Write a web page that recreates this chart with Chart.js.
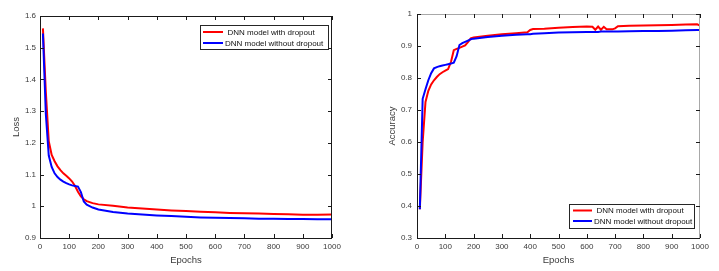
<!DOCTYPE html>
<html>
<head>
<meta charset="utf-8">
<script src="https://cdn.jsdelivr.net/npm/chart.js@4/dist/chart.umd.min.js"></script>
<style>
  html, body { margin: 0; padding: 0; background: #fff; }
  #wrap { position: relative; width: 719px; height: 271px; overflow: hidden; }
  .box { position: absolute; top: 0; height: 271px; }
</style>
</head>
<body>
<div id="wrap">
  <div class="box" style="left:0;width:360px"><canvas id="loss"></canvas></div>
  <div class="box" style="left:360px;width:359px"><canvas id="acc"></canvas></div>
</div>
<script>
// ---------- DATA ----------
const seriesLabels = ['DNN model with dropout', 'DNN model without dropout'];

const lossEpochs = [10, 20, 30, 40, 50, 60, 70, 80, 90, 100, 110, 120, 130, 140, 150, 160, 180, 200, 250, 300, 350, 400, 450, 500, 550, 600, 650, 700, 750, 800, 850, 900, 950, 1000];
const lossWithDropout = [1.561, 1.36, 1.205, 1.162, 1.142, 1.126, 1.114, 1.104, 1.096, 1.088, 1.078, 1.064, 1.046, 1.031, 1.022, 1.016, 1.010, 1.006, 1.002, 0.996, 0.993, 0.990, 0.987, 0.985, 0.983, 0.981, 0.979, 0.978, 0.977, 0.976, 0.975, 0.973, 0.973, 0.974];
const lossWithoutDropout = [1.545, 1.29, 1.160, 1.124, 1.104, 1.092, 1.084, 1.078, 1.073, 1.069, 1.066, 1.064, 1.062, 1.045, 1.015, 1.005, 0.996, 0.990, 0.982, 0.977, 0.974, 0.971, 0.969, 0.967, 0.965, 0.964, 0.963, 0.962, 0.961, 0.961, 0.960, 0.960, 0.959, 0.959];

const accEpochs = [10, 20, 30, 40, 50, 60, 70, 80, 90, 100, 110, 120, 130, 140, 150, 160, 170, 180, 190, 200, 250, 300, 350, 390, 400, 410, 450, 500, 550, 600, 620, 630, 640, 650, 660, 670, 680, 690, 700, 710, 750, 800, 850, 900, 950, 990, 1000];
const accWithDropout = [0.39, 0.60, 0.725, 0.76, 0.78, 0.793, 0.803, 0.812, 0.818, 0.823, 0.828, 0.85, 0.887, 0.891, 0.894, 0.898, 0.902, 0.912, 0.924, 0.927, 0.932, 0.937, 0.940, 0.943, 0.950, 0.953, 0.954, 0.957, 0.959, 0.961, 0.960, 0.951, 0.961, 0.951, 0.960, 0.952, 0.952, 0.952, 0.955, 0.962, 0.963, 0.964, 0.965, 0.966, 0.967, 0.968, 0.964];
const accWithoutDropout = [0.39, 0.735, 0.765, 0.793, 0.815, 0.830, 0.834, 0.837, 0.839, 0.841, 0.843, 0.845, 0.848, 0.868, 0.903, 0.909, 0.913, 0.917, 0.921, 0.923, 0.928, 0.932, 0.935, 0.937, 0.937, 0.938, 0.940, 0.942, 0.943, 0.944, 0.944, 0.944, 0.944, 0.945, 0.945, 0.945, 0.945, 0.945, 0.945, 0.945, 0.946, 0.947, 0.947, 0.948, 0.949, 0.950, 0.950];

const epochTicks = [0, 100, 200, 300, 400, 500, 600, 700, 800, 900, 1000];
const lossTicks = [0.9, 1, 1.1, 1.2, 1.3, 1.4, 1.5, 1.6];
const accTicks = [0.3, 0.4, 0.5, 0.6, 0.7, 0.8, 0.9, 1];

// ---------- HELPERS ----------
const FONT = "'Liberation Sans', Arial, Helvetica, sans-serif";
const TEXT = '#3a3a3a';

function pts(xs, ys) { return xs.map((x, i) => ({ x: x, y: ys[i] })); }

const matlabAxes = {
  id: 'matlabAxes',
  afterDatasetsDraw(chart, args, opts) {
    const { ctx, chartArea: a } = chart;
    const xs = chart.scales.x, ys = chart.scales.y;
    const tl = 4;
    ctx.save();
    ctx.lineWidth = 1;
    // box
    ctx.strokeStyle = '#1a1a1a';
    ctx.beginPath();
    ctx.moveTo(a.left + 0.5, a.top);
    ctx.lineTo(a.left + 0.5, a.bottom + 0.5);
    ctx.lineTo(a.right, a.bottom + 0.5);
    ctx.stroke();
    ctx.strokeStyle = opts.farColor || '#1a1a1a';
    ctx.beginPath();
    ctx.moveTo(a.left, a.top + 0.5);
    ctx.lineTo(a.right - 0.5, a.top + 0.5);
    ctx.lineTo(a.right - 0.5, a.bottom + 0.5);
    ctx.stroke();
    // inner ticks
    ctx.strokeStyle = '#1a1a1a';
    ctx.beginPath();
    xs.ticks.forEach(t => {
      const px = Math.round(xs.getPixelForValue(t.value)) + 0.5;
      ctx.moveTo(px, a.bottom); ctx.lineTo(px, a.bottom - tl);
      ctx.moveTo(px, a.top); ctx.lineTo(px, a.top + tl);
    });
    ys.ticks.forEach(t => {
      const py = Math.round(ys.getPixelForValue(t.value)) + 0.5;
      ctx.moveTo(a.left, py); ctx.lineTo(a.left + tl, py);
      ctx.moveTo(a.right, py); ctx.lineTo(a.right - tl, py);
    });
    ctx.stroke();
    // legend
    const L = opts.legend;
    const bx = a.right - L.dx - L.w;
    const by = L.anchor === 'ne' ? a.top + L.dy : a.bottom - L.dy - L.h;
    ctx.fillStyle = '#fff';
    ctx.fillRect(bx, by, L.w, L.h);
    ctx.strokeStyle = '#262626';
    ctx.strokeRect(Math.round(bx) + 0.5, Math.round(by) + 0.5, L.w, L.h);
    ctx.font = '8px ' + FONT;
    ctx.textBaseline = 'middle';
    ctx.textAlign = 'left';
    chart.data.datasets.forEach((ds, i) => {
      const ry = by + L.rowY[i];
      ctx.strokeStyle = ds.borderColor;
      ctx.lineWidth = 2;
      ctx.beginPath();
      ctx.moveTo(bx + L.lx0, ry); ctx.lineTo(bx + L.lx1, ry);
      ctx.stroke();
      ctx.fillStyle = '#111';
      ctx.fillText(ds.label, bx + L.tx[i], ry + 0.5);
    });
    ctx.restore();
  }
};

function makeChart(id, xs, y1, y2, yMin, yMax, yTicks, yTitle, layout, legend, farColor) {
  return new Chart(document.getElementById(id), {
    type: 'line',
    data: {
      datasets: [
        { label: seriesLabels[0], data: pts(xs, y1), borderColor: '#ff0000', borderWidth: 2, pointRadius: 0, tension: 0, order: 1 },
        { label: seriesLabels[1], data: pts(xs, y2), borderColor: '#0000ff', borderWidth: 2, pointRadius: 0, tension: 0, order: 0 }
      ]
    },
    options: {
      responsive: false,
      animation: false,
      events: [],
      layout: { padding: { top: layout.top, right: layout.right, left: 0, bottom: 0 } },
      plugins: {
        legend: { display: false },
        tooltip: { enabled: false },
        matlabAxes: { legend: legend, farColor: farColor }
      },
      scales: {
        x: {
          type: 'linear', min: 0, max: 1000,
          afterBuildTicks: s => { s.ticks = epochTicks.map(v => ({ value: v })); },
          afterFit: s => { s.height = layout.xh; },
          grid: { display: false, drawTicks: false },
          border: { display: false },
          ticks: { padding: 4, maxRotation: 0, autoSkip: false, color: TEXT, font: { family: FONT, size: 8 }, callback: v => String(v) },
          title: { display: true, text: 'Epochs', color: TEXT, font: { family: FONT, size: 9.5 }, padding: { top: 0, bottom: layout.xtp } }
        },
        y: {
          type: 'linear', min: yMin, max: yMax,
          afterBuildTicks: s => { s.ticks = yTicks.map(v => ({ value: v })); },
          afterFit: s => { s.width = layout.yw; },
          grid: { display: false, drawTicks: false },
          border: { display: false },
          ticks: { padding: layout.ytp, autoSkip: false, color: TEXT, font: { family: FONT, size: 8 }, callback: v => String(Number(v.toFixed(2))) },
          title: { display: true, text: yTitle, color: TEXT, font: { family: FONT, size: 9.5 }, padding: { top: layout.ytitle, bottom: 0 } }
        }
      }
    },
    plugins: [matlabAxes]
  });
}

function sizeCanvas(id, w, h) { const c = document.getElementById(id); c.width = w; c.height = h; c.style.width = w + 'px'; c.style.height = h + 'px'; }
sizeCanvas('loss', 360, 271);
sizeCanvas('acc', 359, 271);

makeChart('loss', lossEpochs, lossWithDropout, lossWithoutDropout, 0.9, 1.6, lossTicks, 'Loss',
  { top: 16, right: 28, xh: 33, yw: 40, ytp: 4, xtp: 4.5, ytitle: 10.5 },
  { anchor: 'ne', dx: 4, dy: 9, w: 128, h: 24, lx0: 3, lx1: 23, rowY: [7, 18], tx: [27.5, 25] },
  '#1a1a1a');

makeChart('acc', accEpochs, accWithDropout, accWithoutDropout, 0.3, 1, accTicks, 'Accuracy',
  { top: 14, right: 19, xh: 33, yw: 57, ytp: 5, xtp: 4.5, ytitle: 26.5 },
  { anchor: 'se', dx: 6, dy: 10, w: 125, h: 24, lx0: 4, lx1: 23, rowY: [6.5, 17], tx: [27.5, 25] },
  '#a8a8a8');
</script>
</body>
</html>
